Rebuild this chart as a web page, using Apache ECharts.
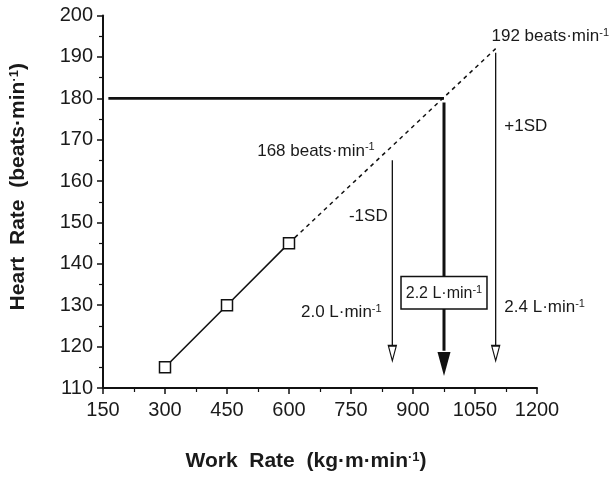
<!DOCTYPE html>
<html>
<head>
<meta charset="utf-8">
<script src="https://cdn.jsdelivr.net/npm/echarts@6/dist/echarts.min.js"></script>
<style>
  html, body { margin: 0; padding: 0; background: #fff; }
  #chart { width: 613px; height: 477px; }
</style>
</head>
<body>
<div id="chart"></div>
<script>
/* measured points */
var workRate = [300, 450, 600];
var heartRate = [115, 130, 145];

/* extrapolated line */
var extrapWork = [600, 1100];
var extrapHR = [145, 192];

/* target heart rate line */
var targetWork = [163, 975];
var targetHR = 180;

/* arrows: -1SD, predicted, +1SD */
var arrowWork = [850, 975, 1100];
var arrowTopHR = [165, 179, 191];
var arrowEndHR = [120, 119, 120];
var arrowHeadHR = [118.4, 115.8, 118.4];

/* text notes */
var noteText = ['192 beats·min{s|-1}', '168 beats·min{s|-1}', '+1SD', '-1SD', '2.0 L·min{s|-1}', '2.4 L·min{s|-1}'];
var noteWork = [1090, 523, 1121, 745, 629, 1121];
var noteHR = [194.9, 167.3, 173.3, 151.5, 128.2, 129.4];

var boxText = '2.2 L·min{s|-1}';
var boxWork = 975;
var boxHR = 133;

/* axis ticks */
var xTicks = [150, 300, 450, 600, 750, 900, 1050, 1200];
var yTicks = [110, 120, 130, 140, 150, 160, 170, 180, 190, 200];

var FONT = "'Liberation Sans', Arial, Helvetica, sans-serif";
var INK = '#111';

function pairs(xs, ys) {
	var out = [];
	for (var i = 0; i < xs.length; i++) {
		out.push([xs[i], ys[i]]);
	}
	return out;
}

var supRich = {
	s: { fontSize: 11, verticalAlign: 'top', fontFamily: FONT, color: '#1a1a1a' }
};
var titleRich = {
	s: { fontSize: 13, fontWeight: 'bold', verticalAlign: 'top', fontFamily: FONT, color: '#1a1a1a' }
};

function chart() {
	var chart = echarts.init(document.getElementById('chart'));
	var series = [];

	series.push({
		type: 'line',
		data: pairs(workRate, heartRate),
		symbol: 'rect',
		symbolSize: 11,
		lineStyle: { color: INK, width: 1.6 },
		itemStyle: { color: '#fff', borderColor: INK, borderWidth: 1.5 },
		z: 6
	});
	series.push({
		type: 'line',
		data: pairs(extrapWork, extrapHR),
		symbol: 'none',
		lineStyle: { color: INK, width: 1.5, type: [4, 4] },
		z: 3
	});
	series.push({
		type: 'line',
		data: [[targetWork[0], targetHR], [targetWork[1], targetHR]],
		symbol: 'none',
		lineStyle: { color: INK, width: 2.8 },
		z: 3
	});

	/* arrow shafts */
	for (var i = 0; i < arrowWork.length; i++) {
		series.push({
			type: 'line',
			data: [[arrowWork[i], arrowTopHR[i]], [arrowWork[i], arrowEndHR[i]]],
			symbol: 'none',
			lineStyle: { color: INK, width: i == 1 ? 3 : 1.3 },
			z: 3
		});
	}

	/* arrow heads */
	series.push({
		type: 'scatter',
		data: [[arrowWork[0], arrowHeadHR[0]], [arrowWork[2], arrowHeadHR[2]]],
		symbol: 'triangle',
		symbolRotate: 180,
		symbolSize: [8, 15],
		itemStyle: { color: '#fff', borderColor: INK, borderWidth: 1.4, opacity: 1 },
		z: 4
	});
	series.push({
		type: 'scatter',
		data: [[arrowWork[1], arrowHeadHR[1]]],
		symbol: 'triangle',
		symbolRotate: 180,
		symbolSize: [13, 24],
		itemStyle: { color: INK, opacity: 1 },
		z: 4
	});

	/* notes */
	var notes = [];
	for (var j = 0; j < noteText.length; j++) {
		notes.push({ value: [noteWork[j], noteHR[j]], name: noteText[j] });
	}
	series.push({
		type: 'scatter',
		data: notes,
		symbolSize: 0,
		itemStyle: { opacity: 1 },
		label: {
			show: true,
			position: 'right',
			distance: 0,
			formatter: function (p) { return p.name; },
			color: '#1a1a1a',
			fontSize: 17,
			fontFamily: FONT,
			lineHeight: 19,
			rich: supRich
		},
		z: 7
	});

	/* boxed predicted value */
	series.push({
		type: 'scatter',
		data: [{ value: [boxWork, boxHR], name: boxText }],
		symbolSize: 0,
		itemStyle: { opacity: 1 },
		label: {
			show: true,
			position: 'inside',
			formatter: function (p) { return p.name; },
			color: '#1a1a1a',
			fontSize: 16,
			fontFamily: FONT,
			lineHeight: 18,
			backgroundColor: '#fff',
			borderColor: INK,
			borderWidth: 1.5,
			padding: [7, 4, 6, 4],
			rich: supRich
		},
		z: 8
	});

	var options = {
		animation: false,
		backgroundColor: '#fff',
		grid: { left: 101, right: 76, top: 15.5, bottom: 86 },
		xAxis: {
			type: 'value',
			min: xTicks[0],
			max: xTicks[xTicks.length - 1],
			interval: 150,
			name: 'Work  Rate  (kg·m·min{s|·1})',
			nameLocation: 'middle',
			nameGap: 63,
			nameTextStyle: {
				fontSize: 21, fontWeight: 'bold', fontFamily: FONT, color: '#1a1a1a',
				padding: [0, 28, 0, 0],
				rich: titleRich
			},
			axisLine: { lineStyle: { color: INK, width: 2 } },
			axisTick: { length: 6, lineStyle: { color: INK, width: 1.5 } },
			minorTick: { show: true, splitNumber: 2, length: 4, lineStyle: { color: INK, width: 1.2 } },
			splitLine: { show: false },
			axisLabel: {
				fontSize: 20, fontFamily: FONT, color: '#1a1a1a', margin: 12,
				formatter: function (v) { return String(v); }
			}
		},
		yAxis: {
			type: 'value',
			min: yTicks[0],
			max: yTicks[yTicks.length - 1],
			interval: 10,
			name: 'Heart  Rate  (beats·min{s|·1})',
			nameLocation: 'middle',
			nameGap: 74,
			nameRotate: 90,
			nameTextStyle: {
				fontSize: 21, fontWeight: 'bold', fontFamily: FONT, color: '#1a1a1a',
				padding: [0, 0, 0, 30],
				rich: titleRich
			},
			axisLine: { show: true, lineStyle: { color: INK, width: 2 } },
			axisTick: { show: true, length: 6, lineStyle: { color: INK, width: 1.5 } },
			minorTick: { show: true, splitNumber: 2, length: 4, lineStyle: { color: INK, width: 1.2 } },
			splitLine: { show: false },
			axisLabel: { fontSize: 20, fontFamily: FONT, color: '#1a1a1a', margin: 10 }
		},
		series: series
	};
	chart.setOption(options);
}

chart();
</script>
</body>
</html>
